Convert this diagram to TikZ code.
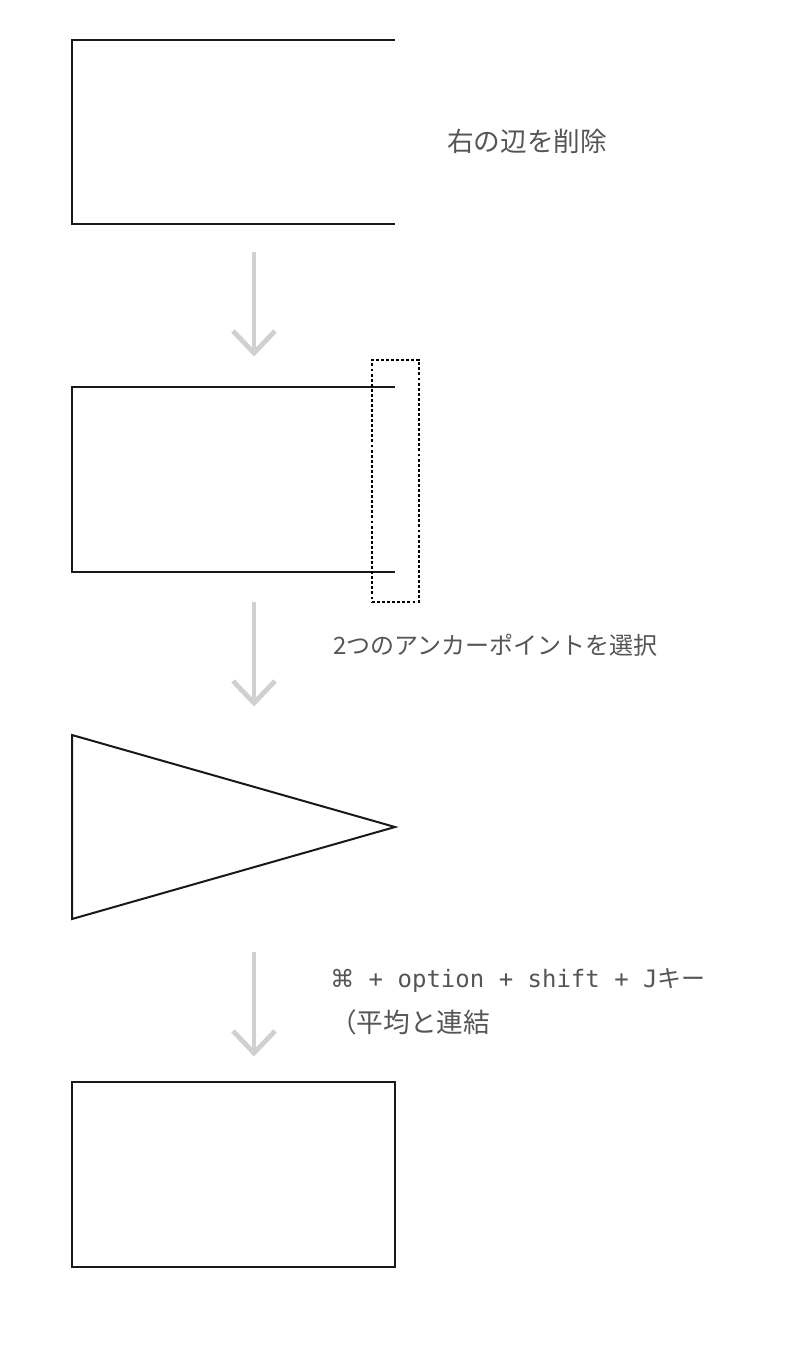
\documentclass[tikz,border=0pt]{standalone}
\usepackage{fontspec}
\usetikzlibrary{calc}
\setmainfont{Noto Sans CJK JP}
\newfontfamily\symfont{DejaVu Sans}
\newfontfamily\latinmono{DejaVu Sans Mono}
\definecolor{arrowgray}{HTML}{D0D0D0}
\definecolor{textgray}{HTML}{555555}
\begin{document}
\begin{tikzpicture}[x=0.75pt,y=-0.75pt,
  shape line/.style={line width=1.5pt,black!90},
  flow arrow/.style={line width=3.6pt,arrowgray},
  note/.style={anchor=west,inner sep=0pt,text=textgray,font=\fontsize{18pt}{22pt}\selectfont},
  big note/.style={note,font=\fontsize{20pt}{24pt}\selectfont},
  selbox/.style={draw,dashed,line width=0.8pt,dash pattern=on 2.2pt off 1.6pt}]
\useasboundingbox (0,0) rectangle (800,1345);
% shape 1: open rectangle
\draw[shape line] (395,40) -- (72,40) -- (72,224) -- (395,224);
% shape 2: open rectangle with selection
\draw[shape line] (395,387) -- (72,387) -- (72,572) -- (395,572);
\node[selbox,minimum width=35.25pt,minimum height=181.5pt,inner sep=0pt] (sel) at (395.5,481) {};
% shape 3: triangle
\draw[shape line,line join=miter] (72,735) -- (395,827) -- (72,919) -- cycle;
% shape 4: rectangle
\draw[shape line] (72,1082) rectangle (395,1267);
% arrows
\foreach \t/\b [count=\i] in {252/353,602/703,952/1053}{
  \coordinate (a\i) at (254,\t);
  \coordinate (b\i) at (254,\b);
  \draw[flow arrow] (a\i) -- (b\i);
  \draw[flow arrow,line join=miter] ($(b\i)+(-21,-22)$) -- (b\i) -- ($(b\i)+(21,-22)$);
}
% texts
\node[big note] (t1) at (447,141) {右の辺を削除};
\node[note] (t2) at (333,645) {2つのアンカーポイントを選択};
\node[note] (t3) at (330,980) {{\symfont ⌘}{\latinmono\ + option + shift + J}キー};
\node[big note] (t4) at (330,1022) {（平均と連結};
\end{tikzpicture}
\end{document}
